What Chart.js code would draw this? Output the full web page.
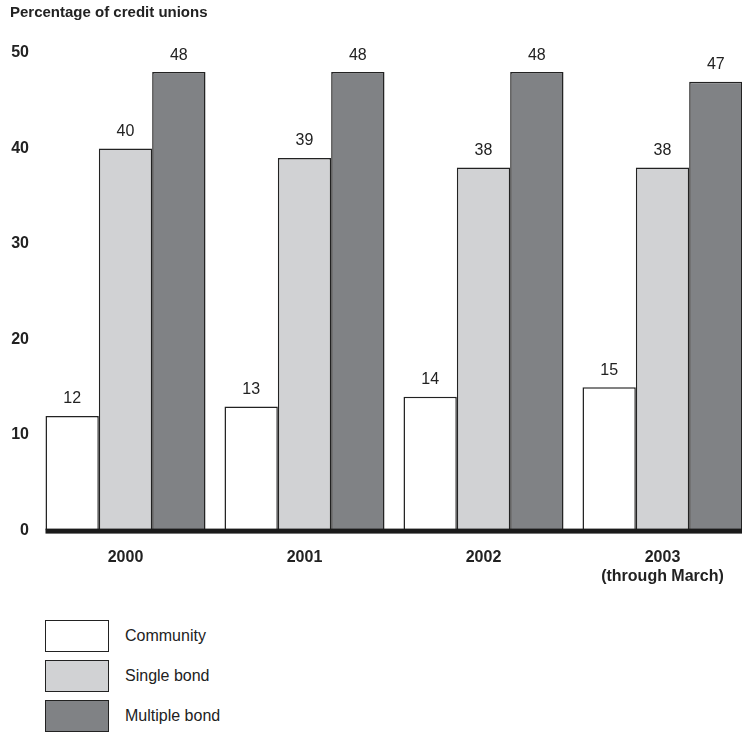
<!DOCTYPE html>
<html>
<head>
<meta charset="utf-8">
<script src="https://cdn.jsdelivr.net/npm/chart.js@4/dist/chart.umd.min.js"></script>
<style>
  html, body { margin: 0; padding: 0; background: #fff; overflow: hidden; }
  #wrap { position: relative; width: 752px; height: 732px; }
  #chart { position: absolute; left: 0; top: 0; }
  #legend { position: absolute; left: 45px; top: 620px; font-family: "Liberation Sans", Arial, sans-serif; font-size: 16px; color: #222; }
  .item { display: flex; align-items: center; height: 32px; margin-bottom: 8px; }
  .box { width: 62px; height: 30px; border: 1px solid #222; margin-right: 16px; }
</style>
</head>
<body>
<div id="wrap">
  <canvas id="chart" width="752" height="605"></canvas>
  <div id="legend"></div>
</div>
<script>
const years = ["2000", "2001", "2002", ["2003", "(through March)"]];
const community = [12, 13, 14, 15];
const singleBond = [40, 39, 38, 38];
const multipleBond = [48, 48, 48, 47];
const yTicks = [0, 10, 20, 30, 40, 50];

const font = "'Liberation Sans', Arial, sans-serif";

//values above the bars + thick baseline
const barExtras = {
  id: "barExtras",
  afterDatasetsDraw(chart) {
    const ctx = chart.ctx;
    ctx.save();
    ctx.font = "16px " + font;
    ctx.fillStyle = "#222";
    ctx.textAlign = "center";
    ctx.textBaseline = "bottom";
    chart.data.datasets.forEach((ds, i) => {
      chart.getDatasetMeta(i).data.forEach((bar, j) => {
        ctx.fillText(ds.data[j], bar.x, bar.y - 9);
      });
    });
    const first = chart.getDatasetMeta(0).data[0];
    const y0 = chart.scales.y.getPixelForValue(0);
    ctx.fillStyle = "#1a1a1a";
    ctx.fillRect(first.x - first.width / 2, y0 - 2, chart.chartArea.right - (first.x - first.width / 2), 5);
    ctx.restore();
  }
};

const chart = new Chart(document.getElementById("chart"), {
  type: "bar",
  plugins: [barExtras],
  data: {
    labels: years,
    datasets: [
      { label: "Community", data: community, backgroundColor: "#ffffff" },
      { label: "Single bond", data: singleBond, backgroundColor: "#d1d2d4" },
      { label: "Multiple bond", data: multipleBond, backgroundColor: "#808285" }
    ].map(d => Object.assign(d, { borderColor: "#222", borderWidth: 1.5, borderSkipped: "bottom" }))
  },
  options: {
    responsive: false,
    animation: false,
    layout: { padding: { left: 10, right: 0, top: 0, bottom: 2 } },
    datasets: { bar: { categoryPercentage: 0.894, barPercentage: 1 } },
    plugins: {
      legend: { display: false },
      tooltip: { enabled: false },
      title: {
        display: true,
        text: "Percentage of credit unions",
        align: "start",
        color: "#222",
        font: { family: font, size: 15, weight: "bold" },
        padding: { top: 4, bottom: 31 }
      }
    },
    scales: {
      x: {
        grid: { display: false, drawTicks: false },
        border: { display: false },
        ticks: { color: "#222", font: { family: font, size: 16, weight: "bold" }, padding: 17 }
      },
      y: {
        min: 0,
        max: 50,
        afterBuildTicks: axis => { axis.ticks = yTicks.map(v => ({ value: v })); },
        afterFit: axis => { axis.width = 26; },
        grid: { display: false, drawTicks: false },
        border: { display: false },
        ticks: { color: "#222", font: { family: font, size: 16, weight: "bold" }, padding: 7 }
      }
    }
  }
});

//legend, one item per row
const legend = document.getElementById("legend");
chart.data.datasets.forEach(ds => {
  const item = document.createElement("div");
  item.className = "item";
  item.innerHTML = '<div class="box" style="background:' + ds.backgroundColor + '"></div><span>' + ds.label + '</span>';
  legend.appendChild(item);
});
</script>
</body>
</html>
